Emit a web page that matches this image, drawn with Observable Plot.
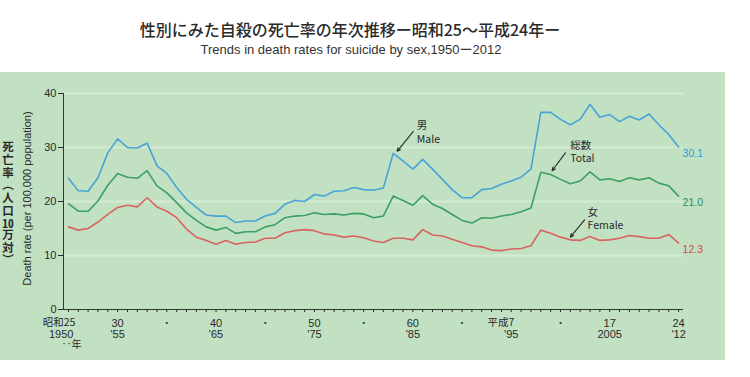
<!DOCTYPE html>
<html>
<head>
<meta charset="utf-8">
<script src="https://cdn.jsdelivr.net/npm/d3@7"></script>
<script src="https://cdn.jsdelivr.net/npm/@observablehq/plot@0.6"></script>
<style>
  body { margin: 0; background: #ffffff; }
  #head { width: 725px; height: 72px; position: relative; }
  #title { position: absolute; top: 20px; left: 0; width: 700px; text-align: center;
    font-family: "Noto Sans CJK JP", sans-serif; font-weight: 500; font-size: 16px; line-height: 18px; color: #2a2a2a; }
  #subtitle { position: absolute; top: 41px; left: 0; width: 702px; text-align: center;
    font-family: "Liberation Sans", Arial, sans-serif; font-size: 13px; line-height: 16px; color: #333; }
  #subtitle .dash { font-family: "Noto Sans CJK JP", sans-serif; }
  #chart { width: 725px; height: 288px; background: #c2e1c3; position: relative; }
  #chart svg { display: block; }
  #ylabja { position: absolute; left: 2px; top: 69px; writing-mode: vertical-rl; line-height: 12px; letter-spacing: 1.2px;
    font-family: "Noto Sans CJK JP", sans-serif; font-weight: bold; font-size: 11.5px; color: #2a2a2a; white-space: nowrap; }
  #ylabja .tcy { text-combine-upright: all; }
</style>
</head>
<body>
<div id="head">
  <div id="title">性別にみた自殺の死亡率の年次推移ー昭和25～平成24年ー</div>
  <div id="subtitle">Trends in death rates for suicide by sex,1950<span class="dash">ー</span>2012</div>
</div>
<div id="chart"><div id="ylabja"></div></div>
<script>
// ---- data ----
const years = [1950,1951,1952,1953,1954,1955,1956,1957,1958,1959,
  1960,1961,1962,1963,1964,1965,1966,1967,1968,1969,
  1970,1971,1972,1973,1974,1975,1976,1977,1978,1979,
  1980,1981,1982,1983,1984,1985,1986,1987,1988,1989,
  1990,1991,1992,1993,1994,1995,1996,1997,1998,1999,
  2000,2001,2002,2003,2004,2005,2006,2007,2008,2009,
  2010,2011,2012];
const male = [24.3,22.0,21.9,24.4,29.0,31.6,30.0,29.9,30.8,26.6,
  25.2,22.6,20.4,18.9,17.5,17.3,17.3,16.1,16.4,16.4,
  17.3,17.8,19.5,20.2,20.0,21.3,21.0,21.9,22.0,22.6,
  22.2,22.1,22.5,28.9,27.5,26.0,27.8,26.0,24.1,22.2,
  20.7,20.7,22.2,22.4,23.2,23.8,24.5,26.0,36.5,36.5,
  35.2,34.2,35.2,38.0,35.6,36.1,34.8,35.8,35.1,36.2,
  34.2,32.4,30.1];
const total = [19.6,18.2,18.2,20.1,23.0,25.2,24.5,24.3,25.7,22.9,
  21.6,19.8,17.9,16.5,15.3,14.7,15.2,14.1,14.4,14.4,
  15.3,15.7,17.0,17.3,17.4,17.9,17.6,17.7,17.5,17.8,
  17.7,17.0,17.3,21.0,20.2,19.3,21.1,19.5,18.7,17.6,
  16.5,16.0,17.0,16.9,17.3,17.6,18.1,18.8,25.4,25.0,
  24.1,23.3,23.8,25.5,24.0,24.2,23.7,24.4,24.0,24.4,
  23.4,22.9,21.0];
const female = [15.3,14.7,15.0,16.2,17.6,18.9,19.3,19.0,20.7,19.0,
  18.2,17.0,14.9,13.4,12.8,12.1,12.8,12.1,12.4,12.5,
  13.2,13.2,14.2,14.6,14.8,14.6,14.0,13.8,13.4,13.6,
  13.3,12.7,12.4,13.2,13.2,12.9,14.8,13.8,13.6,13.0,
  12.4,11.8,11.6,11.0,10.9,11.2,11.3,11.8,14.7,14.1,
  13.4,12.9,12.8,13.5,12.8,12.9,13.2,13.7,13.5,13.2,
  13.2,13.9,12.3];

const xDomain = [1949.5, 2012.5];
const yTicks = [0, 10, 20, 30, 40];
const gridValues = [10, 20, 30, 40];

const labelYears = [1950, 1955, 1965, 1975, 1985, 1995, 2005, 2012];
const eraLabels = ["昭和25", "30", "40", "50", "60", "平成7", "17", "24"];
const westLabels = ["1950", "'55", "'65", "'75", "'85", "'95", "2005", "'12"];
const dotYears = [1960, 1970, 1980, 1990, 2000];
const yearUnit = "‥年";

const yLabelJaParts = ["死亡率（人口", "10", "万対）"];
const yLabelEn = "Death rate (per 100,000 population)";

// annotations (data units)
const annotText = ["男\nMale", "総数\nTotal", "女\nFemale"];
const annotX = [1985.4, 2001.0, 2002.75];
const annotY = [32.9, 29.35, 16.85];
const arrowX1 = [1985.05, 2000.5, 2002.45];
const arrowY1 = [33.0, 29.0, 16.6];
const arrowX2 = [1983.4, 1999.15, 2001.0];
const arrowY2 = [29.3, 25.7, 13.4];

// ---- styles ----
const colors = {male: "#48a4d6", total: "#3c9f63", female: "#d8645d"};
const labelColors = {male: "#2b9fd8", total: "#2e8f55", female: "#cf4b4b"};
const seriesData = {male, total, female};

const rows = (vals) => years.map((yr, i) => ({year: yr, value: vals[i]}));
const last = (vals) => [{year: years[years.length - 1], value: vals[vals.length - 1]}];

const fontEn = "Liberation Sans, Arial, sans-serif";
const fontJa = "Noto Sans CJK JP, sans-serif";
const ink = "#2a2a2a";

const marks = [];
marks.push(Plot.ruleY(gridValues, {stroke: "#d3ebd3", strokeWidth: 2}));
marks.push(Plot.ruleX([xDomain[0]], {y1: 0, y2: 40, stroke: "#2f3a2f", strokeWidth: 1}));
marks.push(Plot.ruleY([0], {stroke: "#2f3a2f", strokeWidth: 1}));

for (const k of ["male", "total", "female"]) {
  marks.push(Plot.line(rows(seriesData[k]), {x: "year", y: "value", stroke: colors[k], strokeWidth: 1.6}));
  marks.push(Plot.text(last(seriesData[k]), {x: "year", y: "value", text: d => d.value.toFixed(1),
    fill: labelColors[k], textAnchor: "start", dx: 4, dy: 7, fontSize: 10.5, fontFamily: fontEn}));
}

// annotations
const ai = annotText.map((t, i) => i);
marks.push(Plot.arrow(ai, {
  x1: i => arrowX1[i], y1: i => arrowY1[i], x2: i => arrowX2[i], y2: i => arrowY2[i],
  stroke: ink, strokeWidth: 1.1, headLength: 5, headAngle: 50}));
marks.push(Plot.text(ai, {
  x: i => annotX[i], y: i => annotY[i], text: i => annotText[i],
  textAnchor: "start", lineAnchor: "middle", lineHeight: 1.25, fontSize: 10.5, fill: ink, fontFamily: fontJa}));

// x-axis labels
const idx = labelYears.map((d, i) => i);
const first = idx.filter(i => i === 0);
const rest = idx.filter(i => i !== 0);
const row = {frameAnchor: "bottom", lineAnchor: "middle", fontSize: 11, fill: ink};
marks.push(Plot.text(rest.filter(i => eraLabels[i].length <= 2), {...row, x: i => labelYears[i], text: i => eraLabels[i],
  dy: 14, fontFamily: fontEn}));
marks.push(Plot.text(rest.filter(i => eraLabels[i].length > 2), {...row, x: i => labelYears[i], text: i => eraLabels[i],
  dy: 13.5, dx: 3, textAnchor: "end", fontSize: 10.5, fontFamily: fontJa}));
marks.push(Plot.text(first, {...row, x: i => labelYears[i], text: i => eraLabels[i],
  dy: 13.5, dx: 7, textAnchor: "end", fontSize: 10.5, fontFamily: fontJa}));
marks.push(Plot.text(rest, {...row, x: i => labelYears[i], text: i => westLabels[i],
  dy: 24.5, fontFamily: fontEn}));
marks.push(Plot.text(first, {...row, x: i => labelYears[i], text: i => westLabels[i],
  dy: 24.5, dx: 5, textAnchor: "end", fontFamily: fontEn}));
marks.push(Plot.text([yearUnit], {...row, x: labelYears[0], text: d => d,
  dy: 35.5, dx: 3, fontSize: 10, fontFamily: fontJa}));
marks.push(Plot.text(dotYears, {...row, x: d => d, text: () => "・",
  dy: 14, fontSize: 9, fontFamily: fontJa}));

// English y-axis title
marks.push(Plot.text([yLabelEn], {text: d => d, frameAnchor: "left", textAnchor: "middle", lineAnchor: "middle",
  dx: -36, dy: -3, rotate: -90, fontSize: 11, fill: ink, fontFamily: fontEn}));

const chart = Plot.plot({
  width: 725,
  height: 288,
  marginLeft: 63,
  marginRight: 42,
  marginTop: 21,
  marginBottom: 51,
  style: {background: "transparent", fontSize: "11px", fontFamily: fontEn, color: ink, overflow: "visible"},
  x: {domain: xDomain, ticks: years, tickSize: 3, tickFormat: () => "", label: null},
  y: {domain: [0, 40], ticks: yTicks, tickSize: 5, tickPadding: 2, label: null},
  marks
});
document.getElementById("chart").appendChild(chart);

// Japanese vertical y-axis title (vertical writing with upright "10")
const ja = document.getElementById("ylabja");
ja.appendChild(document.createTextNode(yLabelJaParts[0]));
const tcy = document.createElement("span");
tcy.className = "tcy";
tcy.textContent = yLabelJaParts[1];
ja.appendChild(tcy);
ja.appendChild(document.createTextNode(yLabelJaParts[2]));
</script>
</body>
</html>
